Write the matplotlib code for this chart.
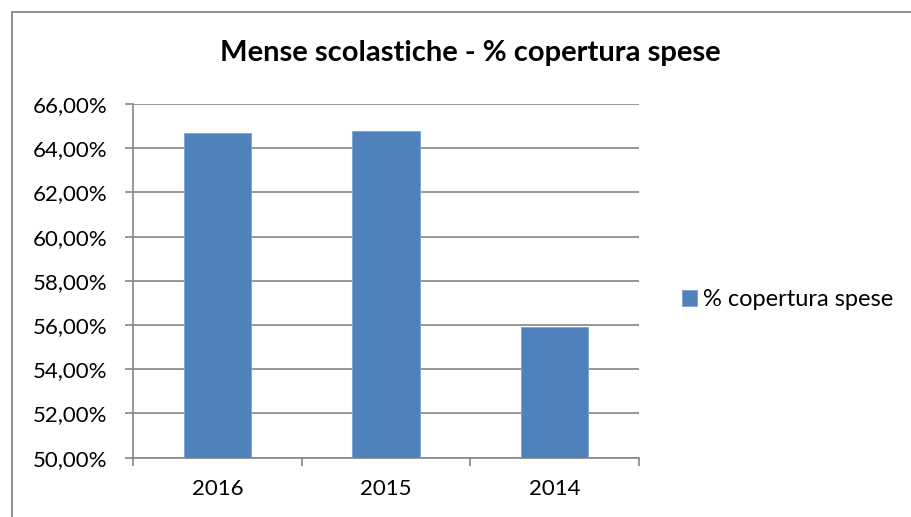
import matplotlib.pyplot as plt
from matplotlib.patches import Rectangle
from matplotlib.ticker import FuncFormatter, FixedLocator

years = ['2016', '2015', '2014']
coverage = [64.69, 64.80, 55.91]

plt.rcParams['font.family'] = ['Lato', 'DejaVu Sans']

fig = plt.figure(figsize=(9.11, 5.17), dpi=100)
ax = fig.add_axes([133 / 911, 1 - 457.7 / 517, 506 / 911, 353.7 / 517])

# chart frame (right and bottom edges fall outside the picture)
fig.patches.append(Rectangle((11.5 / 911, -0.05), 1.1, 1.05 - 11.5 / 517,
                             transform=fig.transFigure, fill=False,
                             edgecolor='#868686', linewidth=1.3))

x = range(len(years))
ax.bar(x, coverage, width=0.40, color='#4F81BD', edgecolor='#7BA3D3',
       linewidth=0.6, label='% copertura spese', zorder=3)

ax.set_xlim(-0.5, 2.5)
ax.set_ylim(50, 66)
ax.set_yticks(range(50, 67, 2))
ax.yaxis.set_major_formatter(FuncFormatter(lambda v, p: f'{v:.2f}%'.replace('.', ',')))
ax.set_xticks(list(x))
ax.set_xticklabels(years)
ax.xaxis.set_minor_locator(FixedLocator([-0.5, 0.5, 1.5, 2.5]))
ax.tick_params(axis='x', which='major', length=0, pad=15, labelsize=16)
ax.tick_params(axis='x', which='minor', length=5.5, width=1.2, color='#868686', direction='out')
ax.tick_params(axis='y', length=6, width=1.2, color='#868686', direction='out',
               labelsize=16, pad=12.5)

ax.grid(axis='y', color='#868686', linewidth=1.2, zorder=0)
for side in ['top', 'right']:
    ax.spines[side].set_visible(False)
for side in ['left', 'bottom']:
    ax.spines[side].set_color('#868686')
    ax.spines[side].set_linewidth(1.2)

fig.text(470 / 911, 1 - 53 / 517, 'Mense scolastiche - % copertura spese',
         ha='center', va='center', fontsize=21, fontweight='bold')

fig.legend(loc='center left', bbox_to_anchor=(682 / 911, 1 - 299.5 / 517),
           bbox_transform=fig.transFigure, frameon=False, fontsize=17,
           handlelength=0.64, handleheight=0.64, handletextpad=0.26,
           borderaxespad=0, borderpad=0)

fig.savefig('out.png', dpi=100)
